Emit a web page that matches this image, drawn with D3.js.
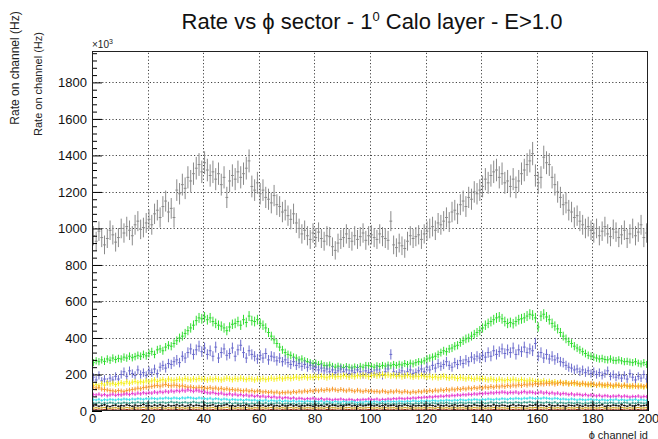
<!DOCTYPE html>
<html>
<head>
<meta charset="utf-8">
<script src="https://cdn.jsdelivr.net/npm/d3@7"></script>
<style>
  body { margin: 0; background: #fff; }
  svg { display: block; font-family: "Liberation Sans", Arial, Helvetica, sans-serif; }
</style>
</head>
<body>
<svg id="chart" width="658" height="439"></svg>
<script>
// φ channel ids and axis ticks
const channels = d3.range(200);
const xTicks = d3.range(0, 201, 20);
const yTicks = d3.range(0, 1801, 200);
const xMinorTicks = d3.range(0, 201, 5);
const yMinorTicks = d3.range(0, 1961, 40);

// Rate per channel (units of 10^3 Hz), one array per energy/selection curve
const grayRate = [
  960,930,985,950,910,945,990,965,925,950, 1000,975,1010,990,960,1020,1040,995,1005,1030,
  1050,1020,1080,1100,1060,1120,1150,1090,1110,1060, 1210,1190,1240,1220,1280,1260,1300,1330,1350,1310,
  1360,1320,1290,1310,1270,1300,1240,1280,1170,1260, 1290,1270,1310,1280,1300,1330,1370,1230,1210,1250,
  1190,1210,1170,1160,1140,1180,1130,1120,1090,1100, 1070,1050,1080,1030,1000,970,990,960,940,975,
  950,980,945,930,960,955,900,880,920,940, 950,970,945,930,960,940,955,975,935,960,
  965,950,940,970,955,945,935,1040,910,895, 920,905,890,930,960,945,955,965,940,970,
  985,1000,1010,990,1030,1020,1040,1060,1035,1090, 1100,1080,1130,1150,1120,1170,1160,1200,1190,1210,
  1230,1270,1250,1290,1310,1320,1280,1300,1250,1260, 1230,1270,1225,1260,1300,1320,1350,1370,1410,1290,
  1250,1280,1390,1360,1350,1280,1240,1200,1170,1130, 1140,1100,1090,1060,1070,1040,1020,1000,1010,990,
  975,1000,960,985,1010,970,955,995,980,950, 965,990,945,970,1000,960,980,1020,950,975
];
const greenRate = [
  265,275,270,280,272,285,278,290,282,288, 285,295,290,300,292,298,305,300,310,302,
  315,325,310,335,340,330,350,360,355,370, 385,400,410,425,440,455,470,495,510,505,
  515,500,510,490,480,470,465,455,440,460, 475,480,490,470,500,485,520,495,490,500,
  480,470,455,430,410,390,370,350,335,320, 310,305,295,290,280,285,275,270,265,260,
  262,255,258,250,248,252,245,240,246,242, 238,244,240,236,242,238,245,240,250,248,
  245,240,248,244,250,246,252,248,255,250, 256,252,260,255,262,258,265,270,268,275,
  285,290,295,300,310,320,330,325,340,345, 355,360,375,385,395,400,410,420,430,440,
  455,470,480,490,500,510,515,505,490,480, 485,478,490,500,505,510,520,530,525,510,
  460,520,530,515,500,480,465,450,430,410, 395,380,370,355,345,335,325,315,305,300,
  295,290,285,288,282,280,285,278,276,280, 275,270,272,268,265,270,262,258,265,255
];
const blueRate = [
  185,170,195,165,175,160,180,170,190,175, 200,215,190,220,205,195,225,200,210,195,
  220,210,230,205,240,250,235,260,255,270, 280,265,300,290,320,340,310,335,355,325,
  345,310,330,300,350,290,320,340,305,315, 345,300,335,360,320,290,330,310,300,285,
  305,290,315,280,300,295,275,290,270,280, 265,255,270,250,260,245,255,240,250,235,
  240,225,235,220,230,215,225,210,220,230, 215,225,205,220,210,225,215,200,220,210,
  215,205,225,210,195,215,230,310,215,200, 210,220,200,215,225,205,210,220,230,215,
  240,225,250,235,260,245,255,270,250,240, 265,255,275,260,280,270,295,285,300,290,
  305,295,320,300,330,310,325,340,315,335, 320,345,310,335,325,350,320,340,330,370,
  300,320,290,310,285,300,280,290,270,265, 250,240,235,225,230,215,225,210,220,205,
  215,200,210,195,205,220,190,200,185,195, 180,195,175,205,185,170,190,180,200,175
];
const yellowRate = [
  140,145,138,150,142,155,148,152,145,150, 155,150,160,152,158,162,155,160,158,165,
  160,165,170,162,168,172,165,175,170,168, 172,175,170,178,174,170,176,172,178,174,
  175,170,176,172,178,174,170,175,180,176, 172,178,174,180,176,172,178,175,170,176,
  174,178,172,176,180,175,178,182,176,180, 184,178,182,186,180,184,188,182,186,184,
  188,184,190,186,182,188,192,186,190,188, 194,190,186,192,188,194,190,196,192,188,
  194,198,192,196,200,194,198,192,196,190, 194,188,192,196,190,186,192,188,194,190,
  186,190,184,188,182,186,190,184,180,186, 182,178,184,180,176,182,178,174,180,176,
  178,174,170,176,172,168,174,170,166,172, 168,174,170,166,172,168,164,170,166,162,
  164,160,166,158,162,156,160,154,158,152, 156,150,154,148,152,146,150,144,148,142,
  146,140,144,138,142,136,140,134,138,142, 136,140,134,138,132,136,140,134,130,136
];
const orangeRate = [
  130,125,128,120,118,115,112,110,108,112, 110,106,112,115,118,120,125,122,128,130,
  132,135,138,140,136,142,145,140,138,142, 140,136,138,134,130,132,128,126,130,128,
  126,124,128,122,126,120,124,118,122,116, 118,114,116,112,110,114,108,112,106,110,
  108,104,106,102,105,100,104,98,102,100, 104,100,106,102,108,104,110,106,112,108,
  114,110,116,112,118,114,120,116,112,118, 114,110,116,112,108,114,110,106,112,108,
  110,106,108,104,110,106,102,108,104,110, 106,102,108,104,100,106,102,108,104,110,
  106,112,108,114,110,116,112,118,114,120, 116,122,118,124,120,126,122,128,124,130,
  126,132,128,134,130,136,132,138,134,140, 136,142,138,144,140,146,142,148,144,150,
  146,150,148,152,150,154,148,152,156,150, 154,148,152,156,150,146,152,148,144,150,
  146,142,148,144,140,146,142,138,144,140, 136,142,138,134,140,136,132,138,134,140
];
const magentaRate = [
  90,88,92,86,90,84,88,92,86,90, 88,92,94,90,96,92,98,94,100,96,
  100,98,104,100,106,102,108,104,110,106, 112,108,114,110,116,112,108,114,110,106,
  104,100,98,102,96,94,98,92,90,94, 88,92,86,90,84,88,82,86,80,84,
  78,82,76,80,74,78,72,76,70,74, 72,68,72,66,70,68,64,68,66,70,
  66,64,68,62,66,64,60,64,62,66, 62,60,64,62,58,62,60,64,62,66,
  64,62,66,60,64,62,66,64,68,66, 70,68,66,70,68,72,70,74,72,76,
  74,78,76,80,78,82,80,84,82,86, 84,88,86,90,88,92,90,94,92,96,
  94,98,96,100,98,102,100,104,102,98, 102,100,104,98,102,106,100,104,102,98,
  100,104,98,102,96,100,94,98,92,96, 94,90,94,88,92,90,86,90,84,88,
  86,82,86,80,84,82,78,82,80,84, 78,82,80,76,80,78,82,76,80,78
];
const cyanRate = [
  62,60,64,58,62,60,64,62,60,64, 62,66,64,62,66,64,68,66,64,68,
  66,70,68,66,70,68,72,70,68,72, 70,68,72,70,74,72,70,68,72,70,
  68,66,70,64,68,66,62,66,64,60, 64,62,60,62,58,62,60,58,60,56,
  58,56,60,54,58,56,54,58,52,56, 54,52,56,50,54,52,50,54,52,50,
  52,50,54,48,52,50,48,52,50,48, 52,50,48,52,50,46,50,48,52,50,
  48,52,50,48,52,50,54,50,52,50, 54,52,50,54,52,56,54,52,56,54,
  56,54,58,56,54,58,56,60,58,56, 60,58,62,60,58,62,60,64,62,60,
  64,62,66,64,62,66,64,68,66,64, 68,66,70,68,66,70,68,72,70,68,
  70,68,72,70,68,66,70,68,64,66, 64,62,66,64,60,64,62,60,62,64,
  60,62,58,62,60,58,62,60,64,58, 62,60,58,62,60,64,58,62,60,58
];
const tealRate = [
  44,42,46,40,44,42,46,44,40,44, 42,46,44,42,46,44,48,44,46,42,
  46,44,48,44,46,48,44,46,50,46, 48,44,46,48,44,46,50,46,44,48,
  46,42,44,46,42,44,40,44,42,46, 40,44,42,40,44,42,38,42,40,44,
  42,40,44,38,42,40,44,42,38,40, 42,38,40,36,40,38,42,38,40,36,
  38,40,36,40,38,42,38,36,40,38, 36,40,38,42,38,36,40,38,36,40,
  38,40,36,40,42,38,40,36,40,38, 42,40,38,42,40,38,42,40,44,40,
  42,40,44,42,40,44,42,46,42,40, 44,42,46,44,42,46,44,42,46,44,
  46,42,44,48,44,46,42,46,48,44, 46,44,48,46,44,48,46,50,46,44,
  48,46,44,48,46,44,48,42,46,44, 42,46,44,42,46,44,40,44,42,46,
  44,42,46,40,44,42,46,44,40,44, 42,46,44,40,44,42,46,44,42,44
];
const blackRate = [
  28,32,26,30,34,28,24,30,32,26, 30,28,34,30,26,32,28,30,36,28,
  30,26,32,28,34,30,26,32,28,30, 34,28,32,26,30,34,28,32,30,26,
  32,28,30,34,26,30,28,32,36,28, 30,26,32,28,30,34,28,26,32,30,
  28,32,26,30,34,28,30,26,32,28, 30,34,28,32,26,30,28,32,30,26,
  32,28,30,26,34,28,32,30,26,30, 28,32,34,28,30,26,32,28,30,34,
  30,28,32,26,30,34,28,30,32,26, 30,28,34,30,26,32,28,30,28,32,
  28,32,30,26,34,30,28,32,26,30, 34,28,30,32,26,30,28,34,30,28,
  32,26,30,28,34,30,28,32,30,26, 30,34,28,32,30,28,26,32,30,34,
  28,32,30,26,34,30,28,32,28,30, 26,32,30,28,34,30,26,32,28,30,
  32,28,30,34,26,30,28,32,30,28, 34,30,26,32,28,30,34,28,30,32
];
const oliveRate = [
  16,18,15,17,19,16,14,17,18,15, 17,16,19,17,15,18,16,17,20,16,
  17,15,18,16,19,17,15,18,16,17, 19,16,18,15,17,19,16,18,17,15,
  18,16,17,19,15,17,16,18,20,16, 17,15,18,16,17,19,16,15,18,17,
  16,18,15,17,19,16,17,15,18,16, 17,19,16,18,15,17,16,18,17,15,
  18,16,17,15,19,16,18,17,15,17, 16,18,19,16,17,15,18,16,17,19,
  17,16,18,15,17,19,16,17,18,15, 17,16,19,17,15,18,16,17,16,18,
  16,18,17,15,19,17,16,18,15,17, 19,16,17,18,15,17,16,19,17,16,
  18,15,17,16,19,17,16,18,17,15, 17,19,16,18,17,16,15,18,17,19,
  16,18,17,15,19,17,16,18,16,17, 15,18,17,16,19,17,15,18,16,17,
  18,16,17,19,15,17,16,18,17,16, 19,17,15,18,16,17,19,16,17,18
];
const brownRate = [
  6,7,5,6,8,6,5,7,6,5, 7,6,8,6,5,7,6,6,8,6,
  6,5,7,6,8,6,5,7,6,6, 8,6,7,5,6,8,6,7,6,5,
  7,6,6,8,5,6,6,7,8,6, 6,5,7,6,6,8,6,5,7,6,
  6,7,5,6,8,6,6,5,7,6, 6,8,6,7,5,6,6,7,6,5,
  7,6,6,5,8,6,7,6,5,6, 6,7,8,6,6,5,7,6,6,8,
  6,6,7,5,6,8,6,6,7,5, 6,6,8,6,5,7,6,6,6,7,
  6,7,6,5,8,6,6,7,5,6, 8,6,6,7,5,6,6,8,6,6,
  7,5,6,6,8,6,6,7,6,5, 6,8,6,7,6,6,5,7,6,8,
  6,7,6,5,8,6,6,7,6,6, 5,7,6,6,8,6,5,7,6,6,
  7,6,6,8,5,6,6,7,6,6, 8,6,5,7,6,6,8,6,6,7
];

// relative statistical error: err = factor * sqrt(rate)
const seriesRates = [grayRate, greenRate, blueRate, yellowRate, orangeRate, magentaRate,
                     cyanRate, tealRate, blackRate, oliveRate, brownRate];
const errFactor = [1.7, 1.2, 1.6, 1.2, 1.2, 1.1, 1.0, 1.0, 1.0, 0.8, 0.8];
const seriesColors = ["#8a8a8a", "#2fdc2f", "#6a6acc", "#f5ef1c", "#f79a2e", "#e63fd0",
                      "#3fe0ea", "#3c9a88", "#111111", "#c9a21a", "#9a2a10"];

const svg = d3.select("#chart");
const margin = { left: 92, right: 10, top: 51, bottom: 28 };
const W = 658, H = 439;
const plotW = W - margin.left - margin.right;
const plotH = H - margin.top - margin.bottom;

const x = d3.scaleLinear().domain([0, 200]).range([margin.left, margin.left + plotW]);
const y = d3.scaleLinear().domain([0, 1972]).range([margin.top + plotH, margin.top]);

svg.append("rect").attr("width", W).attr("height", H).attr("fill", "#fff");

// dotted grid at major ticks
const grid = svg.append("g").attr("stroke", "#444").attr("stroke-width", 1)
  .attr("stroke-dasharray", "1.2,2.2");
grid.selectAll("line.gx").data(xTicks.slice(1, -1)).join("line")
  .attr("x1", d => Math.round(x(d)) + 0.5).attr("x2", d => Math.round(x(d)) + 0.5)
  .attr("y1", y.range()[0]).attr("y2", y.range()[1]);
grid.selectAll("line.gy").data(yTicks.slice(1)).join("line")
  .attr("y1", d => Math.round(y(d)) + 0.5).attr("y2", d => Math.round(y(d)) + 0.5)
  .attr("x1", x.range()[0]).attr("x2", x.range()[1]);

// error-bar crosses for every channel of every curve
svg.append("clipPath").attr("id", "plotClip").append("rect")
  .attr("x", margin.left).attr("y", margin.top).attr("width", plotW).attr("height", plotH);
const marks = svg.append("g").attr("clip-path", "url(#plotClip)");
seriesRates.forEach((rates, si) => {
  const path = d3.path();
  channels.forEach(i => {
    const v = rates[i];
    if (v == null) return;
    const e = errFactor[si] * Math.sqrt(v);
    const cx = x(i + 0.5);
    path.moveTo(cx, y(v - e));
    path.lineTo(cx, y(v + e));
    path.moveTo(x(i), y(v));
    path.lineTo(x(i + 1), y(v));
  });
  marks.append("path").attr("d", path.toString())
    .attr("fill", "none").attr("stroke", seriesColors[si]).attr("stroke-width", 1);
});

// axes with inward ticks
const fontSize = 13;
const yAxis = svg.append("g").attr("transform", `translate(${margin.left},0)`)
  .call(d3.axisLeft(y).tickValues(yTicks).tickSize(-10).tickPadding(5).tickFormat(d3.format("d")));
const yMinor = svg.append("g").attr("transform", `translate(${margin.left},0)`)
  .call(d3.axisLeft(y).tickValues(yMinorTicks.filter(d => d % 200 !== 0)).tickSize(-5).tickFormat(""));
const xAxis = svg.append("g").attr("transform", `translate(0,${margin.top + plotH})`)
  .call(d3.axisBottom(x).tickValues(xTicks).tickSize(-10).tickPadding(3).tickFormat(d3.format("d")));
const xMinor = svg.append("g").attr("transform", `translate(0,${margin.top + plotH})`)
  .call(d3.axisBottom(x).tickValues(xMinorTicks.filter(d => d % 20 !== 0)).tickSize(-5).tickFormat(""));
[yAxis, yMinor, xAxis, xMinor].forEach(g => {
  g.select(".domain").remove();
  g.selectAll(".tick line").attr("stroke", "#000");
  g.selectAll("text").attr("font-size", fontSize).attr("fill", "#111")
    .attr("font-family", "'Liberation Sans', Arial, sans-serif");
});

// frame
svg.append("rect").attr("x", margin.left + 0.5).attr("y", margin.top + 0.5)
  .attr("width", plotW - 1).attr("height", plotH - 1)
  .attr("fill", "none").attr("stroke", "#222").attr("stroke-width", 1);

// exponent of the y axis
const expo = svg.append("text").attr("x", margin.left).attr("y", margin.top - 3)
  .attr("font-size", 10).attr("fill", "#222");
expo.append("tspan").text("×10");
expo.append("tspan").attr("dy", -4).attr("font-size", 7).text("3");

// title
const title = svg.append("text").attr("x", 372).attr("y", 29)
  .attr("text-anchor", "middle").attr("font-size", 22).attr("fill", "#111");
title.append("tspan").text("Rate vs ϕ sector - 1");
title.append("tspan").attr("dy", -8).attr("font-size", 13).text("0");
title.append("tspan").attr("dy", 8).text(" Calo layer - E>1.0");

// axis titles
svg.append("text").attr("transform", "translate(19,68) rotate(-90)")
  .attr("text-anchor", "middle").attr("font-size", 12).attr("fill", "#222")
  .text("Rate on channel (Hz)");
svg.append("text").attr("transform", "translate(42,84) rotate(-90)")
  .attr("text-anchor", "middle").attr("font-size", 11).attr("fill", "#222")
  .text("Rate on channel (Hz)");
svg.append("text").attr("x", margin.left + plotW).attr("y", 438.5)
  .attr("text-anchor", "end").attr("font-size", 11).attr("fill", "#222")
  .text("ϕ channel id");
</script>
</body>
</html>
